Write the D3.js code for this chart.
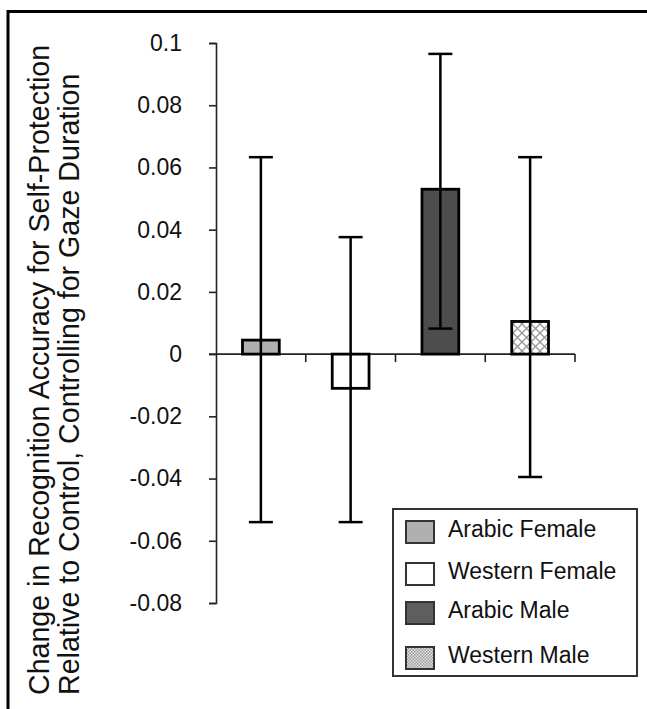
<!DOCTYPE html>
<html><head><meta charset="utf-8">
<script src="https://cdn.jsdelivr.net/npm/d3@7/dist/d3.min.js"></script>
<style>body{margin:0;background:#fff}svg{display:block}text{font-family:"Liberation Sans",Arial,sans-serif;fill:#111}</style>
</head><body><svg id="c" width="647" height="709"></svg>
<script>
const categories = ["Arabic Female","Western Female","Arabic Male","Western Male"];
const values     = [0.0045, -0.011, 0.053, 0.0105];
const errHigh    = [0.0633, 0.0376, 0.0965, 0.0633];
const errLow     = [-0.054, -0.054, 0.0082, -0.0395];
const yTicks     = [0.1,0.08,0.06,0.04,0.02,0,-0.02,-0.04,-0.06,-0.08];
const fills      = ["#b0b0b0","#ffffff","#4d4d4d","url(#hatch)"];
const legendFills= ["#b0b0b0","#ffffff","#5e5e5e","url(#dots)"];
const titleLines = ["Change in Recognition Accuracy for Self-Protection","Relative to Control, Controlling for Gaze Duration"];

const svg = d3.select("#c");
const defs = svg.append("defs");
const h = defs.append("pattern").attr("id","hatch").attr("patternUnits","userSpaceOnUse").attr("width",9).attr("height",9);
h.append("rect").attr("width",9).attr("height",9).attr("fill","#fff");
h.append("path").attr("d","M0,0L9,9M9,0L0,9").attr("stroke","#9a9a9a").attr("stroke-width",1.4);
const dp = defs.append("pattern").attr("id","dots").attr("patternUnits","userSpaceOnUse").attr("width",3).attr("height",3);
dp.append("rect").attr("width",3).attr("height",3).attr("fill","#e4e4e4");
dp.append("rect").attr("width",1.5).attr("height",1.5).attr("fill","#9a9a9a");
dp.append("rect").attr("x",1.5).attr("y",1.5).attr("width",1.5).attr("height",1.5).attr("fill","#9a9a9a");

// frame
svg.append("path").attr("d","M8,709V11.5H647").attr("fill","none").attr("stroke","#000").attr("stroke-width",3);

const y = d3.scaleLinear().domain([-0.08,0.1]).range([603,43]);
const x = d3.scaleBand().domain(categories).range([216,575]).padding(0);
const barW = x.bandwidth()*0.41;

// y axis
const yAxis = svg.append("g").attr("transform","translate(216,0)")
  .call(d3.axisLeft(y).tickValues(yTicks).tickSize(7).tickPadding(27).tickFormat(d=>d===0?"0":String(+d.toFixed(2))));
yAxis.select(".domain").attr("stroke","#222").attr("stroke-width",1.6).attr("d","M-7,43.5H0.5V603.5H-7");
yAxis.selectAll(".tick line").attr("stroke","#222").attr("stroke-width",1.6);
yAxis.selectAll(".tick text").attr("font-size",23).attr("fill","#111").style("font-family","Liberation Sans, Arial, sans-serif");

// x axis line with boundary ticks
const xb = svg.append("g");
xb.append("line").attr("x1",209).attr("x2",x.range()[1]).attr("y1",y(0)).attr("y2",y(0)).attr("stroke","#222").attr("stroke-width",1.6);
xb.selectAll("line.t").data(categories).join("line").attr("class","t")
  .attr("x1",d=>x(d)+x.bandwidth()).attr("x2",d=>x(d)+x.bandwidth())
  .attr("y1",y(0)).attr("y2",y(0)+8).attr("stroke","#222").attr("stroke-width",1.6);

// bars
svg.selectAll("rect.bar").data(categories).join("rect").attr("class","bar")
  .attr("x",d=>x(d)+x.bandwidth()/2-barW/2).attr("width",barW)
  .attr("y",(d,i)=>Math.min(y(values[i]),y(0))).attr("height",(d,i)=>Math.abs(y(values[i])-y(0)))
  .attr("fill",(d,i)=>fills[i]).attr("stroke","#000").attr("stroke-width",2.8);

// error bars
const eg = svg.append("g").attr("stroke","#000").attr("stroke-width",2.5);
categories.forEach((c,i)=>{
  const cx = x(c)+x.bandwidth()/2;
  eg.append("line").attr("x1",cx).attr("x2",cx).attr("y1",y(errHigh[i])).attr("y2",y(errLow[i]));
  [errHigh[i],errLow[i]].forEach(v=>eg.append("line").attr("x1",cx-12).attr("x2",cx+12).attr("y1",y(v)).attr("y2",y(v)));
});

// y title
titleLines.forEach((t,i)=>{
  svg.append("text").attr("transform",`translate(${49+i*30},695) rotate(-90)`)
    .attr("text-anchor","start").attr("font-size",28.6).text(t);
});

// legend
const lg = svg.append("g");
lg.append("rect").attr("x",393).attr("y",509).attr("width",244).attr("height",167).attr("fill","#fff").attr("stroke","#333").attr("stroke-width",2);
const ly = [521,563,602,647];
categories.forEach((c,i)=>{
  lg.append("rect").attr("x",406).attr("y",ly[i]).attr("width",28).attr("height",22).attr("fill",legendFills[i]).attr("stroke","#333").attr("stroke-width",2);
  lg.append("text").attr("x",448).attr("y",ly[i]+16).attr("font-size",23).text(c);
});
</script></body></html>
